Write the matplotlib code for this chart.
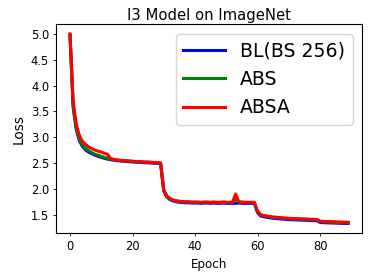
import matplotlib
matplotlib.use("Agg")
import matplotlib.pyplot as plt
import numpy as np

epochs = list(range(90))

absa = [5.00, 3.70, 3.25, 3.03, 2.92, 2.86, 2.81, 2.78, 2.75, 2.73,
        2.71, 2.69, 2.67, 2.59, 2.57, 2.56, 2.555, 2.55, 2.545, 2.54,
        2.535, 2.53, 2.53, 2.525, 2.52, 2.52, 2.515, 2.51, 2.51, 2.50,
        1.98, 1.86, 1.81, 1.785, 1.77, 1.76, 1.755, 1.75, 1.75, 1.745,
        1.745, 1.745, 1.74, 1.745, 1.745, 1.74, 1.745, 1.74, 1.74, 1.745,
        1.74, 1.74, 1.74, 1.90, 1.75, 1.745, 1.74, 1.74, 1.74, 1.74,
        1.57, 1.50, 1.485, 1.475, 1.465, 1.455, 1.45, 1.445, 1.44, 1.435,
        1.43, 1.428, 1.425, 1.422, 1.42, 1.418, 1.415, 1.413, 1.41, 1.408,
        1.375, 1.37, 1.368, 1.366, 1.364, 1.362, 1.36, 1.358, 1.356, 1.355]

abs_ = [4.98, 3.62, 3.18, 2.96, 2.85, 2.78, 2.74, 2.70, 2.67, 2.65,
        2.63, 2.61, 2.59, 2.575, 2.565, 2.555, 2.55, 2.545, 2.54, 2.535,
        2.53, 2.525, 2.525, 2.52, 2.515, 2.515, 2.51, 2.505, 2.505, 2.495,
        1.97, 1.85, 1.80, 1.78, 1.765, 1.755, 1.75, 1.745, 1.745, 1.74,
        1.74, 1.74, 1.735, 1.74, 1.74, 1.735, 1.74, 1.735, 1.735, 1.74,
        1.735, 1.735, 1.735, 1.81, 1.745, 1.74, 1.735, 1.735, 1.735, 1.735,
        1.56, 1.495, 1.478, 1.468, 1.458, 1.448, 1.443, 1.438, 1.433, 1.428,
        1.423, 1.42, 1.417, 1.414, 1.412, 1.41, 1.407, 1.405, 1.402, 1.40,
        1.365, 1.36, 1.358, 1.356, 1.354, 1.352, 1.35, 1.348, 1.346, 1.345]

bl = [4.97, 3.58, 3.15, 2.93, 2.82, 2.75, 2.71, 2.68, 2.65, 2.63,
      2.61, 2.59, 2.575, 2.565, 2.555, 2.545, 2.54, 2.535, 2.53, 2.525,
      2.52, 2.515, 2.515, 2.51, 2.505, 2.505, 2.50, 2.495, 2.495, 2.485,
      1.96, 1.84, 1.79, 1.765, 1.75, 1.74, 1.735, 1.73, 1.73, 1.725,
      1.725, 1.725, 1.72, 1.725, 1.725, 1.72, 1.725, 1.72, 1.72, 1.725,
      1.72, 1.72, 1.72, 1.72, 1.725, 1.72, 1.72, 1.72, 1.72, 1.72,
      1.54, 1.475, 1.46, 1.45, 1.44, 1.43, 1.425, 1.42, 1.415, 1.41,
      1.405, 1.402, 1.40, 1.397, 1.395, 1.392, 1.39, 1.388, 1.385, 1.383,
      1.35, 1.345, 1.343, 1.341, 1.339, 1.337, 1.335, 1.333, 1.331, 1.33]

series_labels = ["BL(BS 256)", "ABS", "ABSA"]
series_colors = ["blue", "green", "red"]
title = "I3 Model on ImageNet"

fig = plt.figure(figsize=(3.74, 2.8), dpi=100)
ax = fig.add_axes([0.150, 0.168, 0.818, 0.745])

for vals, lab, col in zip([bl, abs_, absa], series_labels, series_colors):
    ax.plot(epochs, vals, color=col, lw=2.2, label=lab)

ax.set_yticks([1.5, 2.0, 2.5, 3.0, 3.5, 4.0, 4.5, 5.0])
ax.set_xticks([0, 20, 40, 60, 80])
ax.tick_params(labelsize=8.3, length=2.5, width=0.6, pad=2.5)
for s in ax.spines.values():
    s.set_linewidth(0.8)
ax.set_xlabel("Epoch", fontsize=8.6)
ax.set_ylabel("Loss", fontsize=9.8)
ax.set_title(title, fontsize=10.6, pad=3)
ax.legend(fontsize=13.6, loc="upper right", handlelength=2.2,
          borderaxespad=0.5)

fig.savefig("out.png", dpi=100)
